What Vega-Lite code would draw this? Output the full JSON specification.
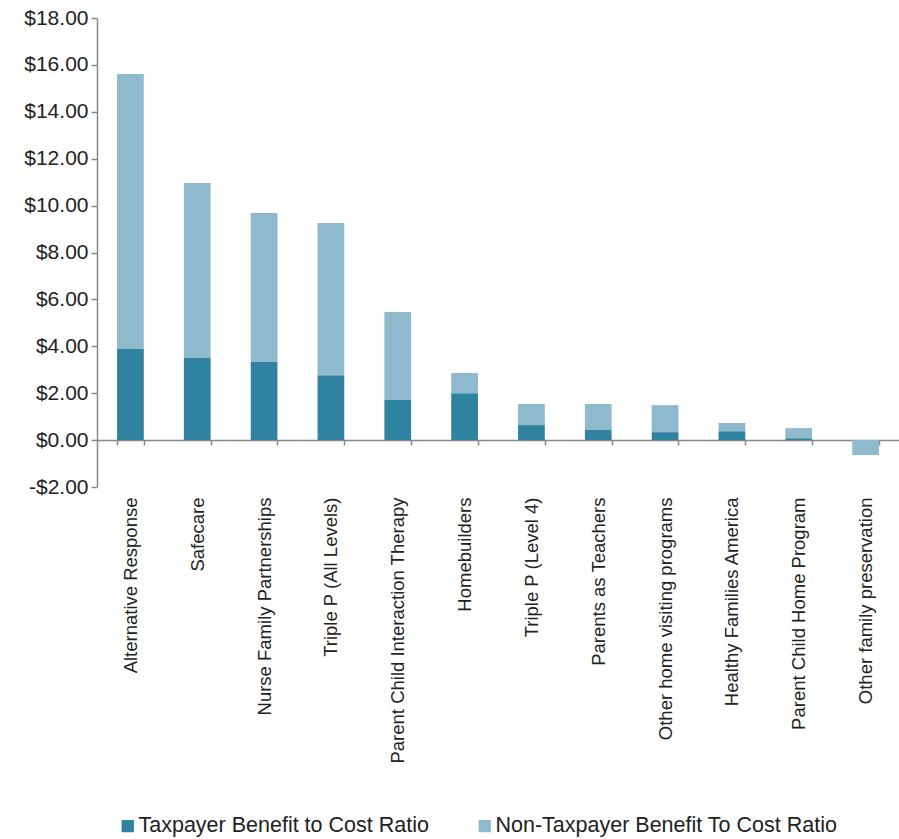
{
  "$schema": "https://vega.github.io/schema/vega-lite/v6.json",
  "autosize": {"type": "none"},
  "padding": {"left": 97, "top": 18, "right": 0, "bottom": 352},
  "width": 802,
  "height": 469,
  "background": "white",
  "config": {
    "view": {"stroke": null},
    "font": "Liberation Sans",
    "axis": {"grid": false, "labelFont": "Liberation Sans", "labelColor": "#222", "domainColor": "#888", "tickColor": "#888"}
  },
  "data": {
    "values": [
      {"program": "Alternative Response", "type": "Taxpayer Benefit to Cost Ratio", "value": 3.88},
      {"program": "Alternative Response", "type": "Non-Taxpayer Benefit To Cost Ratio", "value": 11.73},
      {"program": "Safecare", "type": "Taxpayer Benefit to Cost Ratio", "value": 3.5},
      {"program": "Safecare", "type": "Non-Taxpayer Benefit To Cost Ratio", "value": 7.46},
      {"program": "Nurse Family Partnerships", "type": "Taxpayer Benefit to Cost Ratio", "value": 3.33},
      {"program": "Nurse Family Partnerships", "type": "Non-Taxpayer Benefit To Cost Ratio", "value": 6.35},
      {"program": "Triple P (All Levels)", "type": "Taxpayer Benefit to Cost Ratio", "value": 2.77},
      {"program": "Triple P (All Levels)", "type": "Non-Taxpayer Benefit To Cost Ratio", "value": 6.49},
      {"program": "Parent Child Interaction Therapy", "type": "Taxpayer Benefit to Cost Ratio", "value": 1.71},
      {"program": "Parent Child Interaction Therapy", "type": "Non-Taxpayer Benefit To Cost Ratio", "value": 3.75},
      {"program": "Homebuilders", "type": "Taxpayer Benefit to Cost Ratio", "value": 2.0},
      {"program": "Homebuilders", "type": "Non-Taxpayer Benefit To Cost Ratio", "value": 0.86},
      {"program": "Triple P (Level 4)", "type": "Taxpayer Benefit to Cost Ratio", "value": 0.64},
      {"program": "Triple P (Level 4)", "type": "Non-Taxpayer Benefit To Cost Ratio", "value": 0.9},
      {"program": "Parents as Teachers", "type": "Taxpayer Benefit to Cost Ratio", "value": 0.43},
      {"program": "Parents as Teachers", "type": "Non-Taxpayer Benefit To Cost Ratio", "value": 1.11},
      {"program": "Other home visiting programs", "type": "Taxpayer Benefit to Cost Ratio", "value": 0.34},
      {"program": "Other home visiting programs", "type": "Non-Taxpayer Benefit To Cost Ratio", "value": 1.15},
      {"program": "Healthy Families America", "type": "Taxpayer Benefit to Cost Ratio", "value": 0.38},
      {"program": "Healthy Families America", "type": "Non-Taxpayer Benefit To Cost Ratio", "value": 0.35},
      {"program": "Parent Child Home Program", "type": "Taxpayer Benefit to Cost Ratio", "value": 0.08},
      {"program": "Parent Child Home Program", "type": "Non-Taxpayer Benefit To Cost Ratio", "value": 0.43},
      {"program": "Other family preservation", "type": "Taxpayer Benefit to Cost Ratio", "value": 0.0},
      {"program": "Other family preservation", "type": "Non-Taxpayer Benefit To Cost Ratio", "value": -0.64}
    ]
  },
  "mark": {"type": "bar"},
  "encoding": {
    "x": {
      "field": "program",
      "type": "nominal",
      "sort": null,
      "scale": {"paddingInner": 0.6, "paddingOuter": 0.3},
      "axis": {
        "title": null,
        "orient": "bottom",
        "offset": -47,
        "labelAngle": -90,
        "labelAlign": "right",
        "labelBaseline": "middle",
        "labelFontSize": 18.5,
        "labelLimit": 400,
        "labelPadding": 52,
        "tickBand": "extent",
        "tickSize": 5,
        "tickWidth": 1.5,
        "domainWidth": 1.5
      }
    },
    "y": {
      "field": "value",
      "type": "quantitative",
      "stack": "zero",
      "scale": {"domain": [-2, 18], "nice": false},
      "axis": {
        "title": null,
        "values": [-2, 0, 2, 4, 6, 8, 10, 12, 14, 16, 18],
        "labelExpr": "(datum.value < 0 ? '-' : '') + '$' + format(abs(datum.value), '.2f')",
        "labelFontSize": 21,
        "labelPadding": 3,
        "tickSize": 6,
        "tickWidth": 1.5,
        "domainWidth": 1.5
      }
    },
    "color": {
      "field": "type",
      "type": "nominal",
      "scale": {
        "domain": ["Taxpayer Benefit to Cost Ratio", "Non-Taxpayer Benefit To Cost Ratio"],
        "range": ["#2f82a0", "#8fb9cd"]
      },
      "legend": {
        "title": null,
        "orient": "none",
        "direction": "horizontal",
        "legendX": 20,
        "legendY": 797,
        "symbolType": "square",
        "symbolSize": 150,
        "symbolStrokeWidth": 0,
        "labelFontSize": 21.5,
        "labelColor": "#222",
        "labelLimit": 500,
        "columnPadding": 45,
        "labelOffset": 0
      }
    },
    "order": {"field": "type", "sort": "descending"}
  }
}
